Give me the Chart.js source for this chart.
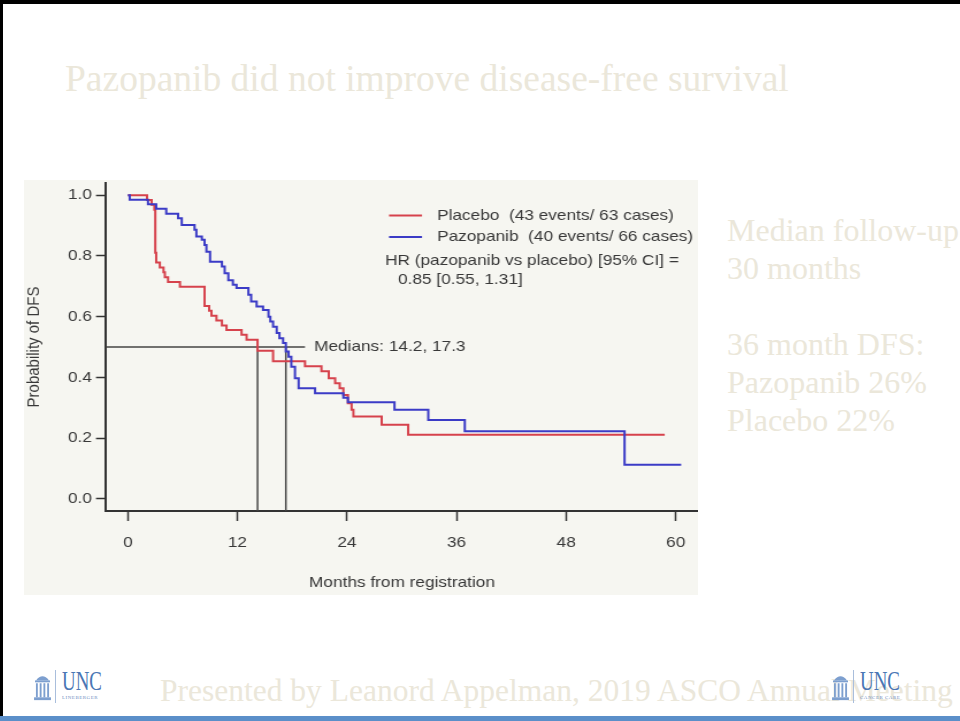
<!DOCTYPE html>
<html>
<head>
<meta charset="utf-8">
<script src="https://cdn.jsdelivr.net/npm/chart.js@4.4.1/dist/chart.umd.min.js"></script>
<style>
  html, body { margin: 0; padding: 0; background: #fff; }
  #slide { position: relative; width: 960px; height: 721px; overflow: hidden; background: #fff; }
  .edge-top { position: absolute; left: 0; top: 0; width: 960px; height: 4px; background: #000; }
  .edge-left { position: absolute; left: 0; top: 0; width: 3px; height: 721px; background: #000; }
  .bar { position: absolute; left: 0; top: 716px; width: 960px; height: 5px; background: #5b8fc9; }
  .serif { font-family: "Liberation Serif", "Times New Roman", serif; color: #ebe7da; white-space: nowrap; position: absolute; }
  #title { left: 65px; top: 60px; font-size: 37.5px; line-height: 37.5px; }
  #notes { left: 727px; top: 211px; font-size: 32px; line-height: 38px; }
  #footer { left: 160px; top: 675px; font-size: 31.5px; line-height: 31.5px; }
  #km { position: absolute; left: 24px; top: 180px; background: #f6f6f1; transform-origin: 0 0; }
  .logo { position: absolute; top: 669px; height: 36px; }
  .logo svg { position: absolute; left: 0; top: 3px; }
  .logo .rule { position: absolute; left: 21px; top: 1px; width: 1px; height: 33px; background: #a9bedc; }
  .logo .unc { position: absolute; left: 28px; top: -1px; font-family: "Liberation Serif", "Times New Roman", serif; font-size: 27px; line-height: 27px; color: #4a76b4; transform: scaleX(0.7); transform-origin: 0 0; }
  .logo .sub { position: absolute; left: 28px; top: 26px; font-family: "Liberation Serif", serif; font-size: 5px; line-height: 6px; color: #6f8fbf; letter-spacing: 0.5px; white-space: nowrap; }
</style>
</head>
<body>
<div id="slide">
  <div class="edge-top"></div>
  <div class="edge-left"></div>
  <div id="title" class="serif">Pazopanib did not improve disease-free survival</div>
  <canvas id="km"></canvas>
  <div id="notes" class="serif">Median follow-up<br>30 months<br><br>36 month DFS:<br>Pazopanib 26%<br>Placebo 22%</div>
  <div id="footer" class="serif">Presented by Leanord Appelman, 2019 ASCO Annual Meeting</div>
  <div class="logo" style="left:34px;width:80px;">
    <svg width="17" height="30" viewBox="0 0 18 32">
      <path d="M2 9 Q9 0 16 9 Z" fill="#7d9fcf"/>
      <rect x="1" y="9" width="16" height="2" fill="#7d9fcf"/>
      <rect x="2" y="12" width="2" height="15" fill="#7d9fcf"/>
      <rect x="6" y="12" width="2" height="15" fill="#7d9fcf"/>
      <rect x="10" y="12" width="2" height="15" fill="#7d9fcf"/>
      <rect x="14" y="12" width="2" height="15" fill="#7d9fcf"/>
      <rect x="0" y="27" width="18" height="3" fill="#7d9fcf"/>
    </svg>
    <div class="rule"></div>
    <div class="unc">UNC</div>
    <div class="sub">LINEBERGER</div>
  </div>
  <div class="logo" style="left:832px;width:80px;">
    <svg width="17" height="30" viewBox="0 0 18 32">
      <path d="M2 9 Q9 0 16 9 Z" fill="#7d9fcf"/>
      <rect x="1" y="9" width="16" height="2" fill="#7d9fcf"/>
      <rect x="2" y="12" width="2" height="15" fill="#7d9fcf"/>
      <rect x="6" y="12" width="2" height="15" fill="#7d9fcf"/>
      <rect x="10" y="12" width="2" height="15" fill="#7d9fcf"/>
      <rect x="14" y="12" width="2" height="15" fill="#7d9fcf"/>
      <rect x="0" y="27" width="18" height="3" fill="#7d9fcf"/>
    </svg>
    <div class="rule"></div>
    <div class="unc">UNC</div>
    <div class="sub">CANCER CARE</div>
  </div>
  <div class="bar"></div>
</div>

<script>
// Kaplan-Meier disease-free survival, months from registration
const placeboMonths = [0, 2.1, 2.6, 2.9, 3.0, 3.1, 3.5, 3.9, 4.05, 4.4, 5.7, 8.4, 8.9, 9.15, 9.7, 10.3, 10.8, 12.45, 13.0, 14.2, 15.9, 19.4, 21.2, 22.0, 22.7, 23.2, 23.6, 24.1, 24.5, 24.7, 27.8, 30.7, 58.8];
const placeboDFS    = [1.0, 0.984, 0.968, 0.952, 0.81, 0.778, 0.762, 0.746, 0.730, 0.714, 0.698, 0.635, 0.619, 0.603, 0.587, 0.571, 0.556, 0.540, 0.524, 0.488, 0.453, 0.437, 0.420, 0.397, 0.381, 0.364, 0.342, 0.315, 0.293, 0.271, 0.244, 0.211, 0.211];

const pazopanibMonths = [0, 0.2, 2.2, 3.1, 4.2, 5.5, 5.9, 7.3, 7.5, 8.1, 8.4, 8.6, 9.0, 10.3, 10.6, 11.0, 11.5, 11.9, 13.2, 13.5, 14.1, 14.8, 15.4, 15.6, 15.9, 16.3, 16.6, 17.0, 17.3, 17.6, 17.9, 18.3, 18.7, 20.5, 23.6, 24.1, 29.2, 32.9, 36.9, 54.4, 60.6];
const pazopanibDFS    = [1.0, 0.985, 0.970, 0.955, 0.939, 0.924, 0.902, 0.886, 0.864, 0.853, 0.836, 0.814, 0.781, 0.765, 0.743, 0.720, 0.705, 0.694, 0.672, 0.650, 0.633, 0.622, 0.600, 0.584, 0.567, 0.546, 0.529, 0.513, 0.485, 0.468, 0.435, 0.397, 0.364, 0.348, 0.333, 0.318, 0.293, 0.260, 0.223, 0.112, 0.112];

const arms      = ['Placebo', 'Pazopanib'];
const events    = [43, 40];
const cases     = [63, 66];
const medians   = [14.2, 17.3];
const hazard    = [0.85, 0.55, 1.31];   // HR, lower 95% CI, upper 95% CI

const xTicks = [0, 12, 24, 36, 48, 60];
const yTicks = [0, 0.2, 0.4, 0.6, 0.8, 1.0];

const X_MIN = -2.4, X_MAX = 62.44, Y_MIN = -0.04, Y_MAX = 1.04;
const MEDIAN_LINE_END = 19.4;

// the figure is drawn narrow and widened on the page (wide Helvetica look)
const STRETCH = 1.15;
const PANEL_W = 674, PANEL_H = 415;
const sx = v => v / STRETCH;

const RED = '#d6424c';
const BLUE = '#3b3bc6';
const INK = '#383838';
const FONT = '"Liberation Sans", Arial, Helvetica, sans-serif';
const FONT_SIZE = 15;

const canvas = document.getElementById('km');
canvas.width = Math.round(PANEL_W / STRETCH);
canvas.height = PANEL_H;
canvas.style.width = canvas.width + 'px';
canvas.style.height = PANEL_H + 'px';
canvas.style.transform = `scaleX(${PANEL_W / canvas.width})`;

const toPoints = (xs, ys) => xs.map((t, i) => ({ x: t, y: ys[i] }));
const armLabel = i => `${arms[i]}  (${events[i]} events/ ${cases[i]} cases)`;

const medianStyle = { borderColor: '#444', borderWidth: 1.5, pointRadius: 0, fill: false, order: 3 };

// legend, hazard ratio and median annotation
const notesPlugin = {
  id: 'kmNotes',
  afterDraw(chart) {
    const { ctx, scales: { x, y } } = chart;
    ctx.save();
    ctx.font = FONT_SIZE + 'px ' + FONT;
    ctx.fillStyle = INK;
    ctx.textBaseline = 'middle';
    ctx.textAlign = 'left';

    const colors = [RED, BLUE];
    const rowsY = [35.5, 57];
    arms.forEach((arm, i) => {
      ctx.strokeStyle = colors[i];
      ctx.lineWidth = 2;
      ctx.beginPath();
      ctx.moveTo(sx(365), rowsY[i]);
      ctx.lineTo(sx(398), rowsY[i]);
      ctx.stroke();
      ctx.fillText(armLabel(i), sx(413), rowsY[i]);
    });

    ctx.fillText('HR (pazopanib vs placebo) [95% CI] =', sx(361), 81);
    ctx.fillText(`${hazard[0].toFixed(2)} [${hazard[1].toFixed(2)}, ${hazard[2].toFixed(2)}]`, sx(374), 100);

    ctx.fillText(`Medians: ${medians[0]}, ${medians[1]}`,
      x.getPixelForValue(MEDIAN_LINE_END) + sx(9), y.getPixelForValue(0.5));
    ctx.restore();
  }
};

const tickFont = { family: FONT, size: FONT_SIZE };

new Chart(canvas, {
  type: 'line',
  data: {
    datasets: [
      { label: armLabel(1), data: toPoints(pazopanibMonths, pazopanibDFS), borderColor: BLUE,
        borderWidth: 2, stepped: true, pointRadius: 0, fill: false, order: 0 },
      { label: armLabel(0), data: toPoints(placeboMonths, placeboDFS), borderColor: RED,
        borderWidth: 2, stepped: true, pointRadius: 0, fill: false, order: 1 },
      { label: 'median', data: [{ x: X_MIN, y: 0.5 }, { x: MEDIAN_LINE_END, y: 0.5 }], ...medianStyle },
      { label: 'median placebo', data: [{ x: medians[0], y: 0.5 }, { x: medians[0], y: Y_MIN }], ...medianStyle },
      { label: 'median pazopanib', data: [{ x: medians[1], y: 0.5 }, { x: medians[1], y: Y_MIN }], ...medianStyle }
    ]
  },
  options: {
    responsive: false,
    animation: false,
    devicePixelRatio: 1,
    events: [],
    layout: { padding: { top: 3, left: 0, right: 0, bottom: 0 } },
    plugins: { legend: { display: false }, tooltip: { enabled: false } },
    scales: {
      x: {
        type: 'linear', min: X_MIN, max: X_MAX,
        afterBuildTicks: s => { s.ticks = xTicks.map(v => ({ value: v })); },
        afterFit: s => { s.height = 84; s.paddingLeft = 0; s.paddingRight = 0; },
        grid: { drawOnChartArea: false, tickLength: 10, tickColor: '#333', tickWidth: 1.5 },
        border: { color: '#333', width: 2 },
        ticks: { padding: 13, color: INK, font: tickFont, callback: v => String(v), maxRotation: 0 },
        title: { display: true, text: 'Months from registration', color: INK,
                 font: tickFont, padding: { top: 0, bottom: 3 } }
      },
      y: {
        type: 'linear', min: Y_MIN, max: Y_MAX,
        afterBuildTicks: s => { s.ticks = yTicks.map(v => ({ value: v })); },
        afterFit: s => { s.width = sx(82); s.paddingTop = 0; s.paddingBottom = 0; },
        grid: { drawOnChartArea: false, tickLength: sx(10), tickColor: '#333', tickWidth: 1.5 },
        border: { color: '#333', width: 2 },
        ticks: { padding: sx(4), color: INK, font: tickFont, callback: v => v.toFixed(1) },
        title: { display: true, text: 'Probability of DFS', color: INK,
                 font: tickFont, padding: { top: 0, bottom: 0 } }
      }
    }
  },
  plugins: [notesPlugin]
});
</script>
</body>
</html>
